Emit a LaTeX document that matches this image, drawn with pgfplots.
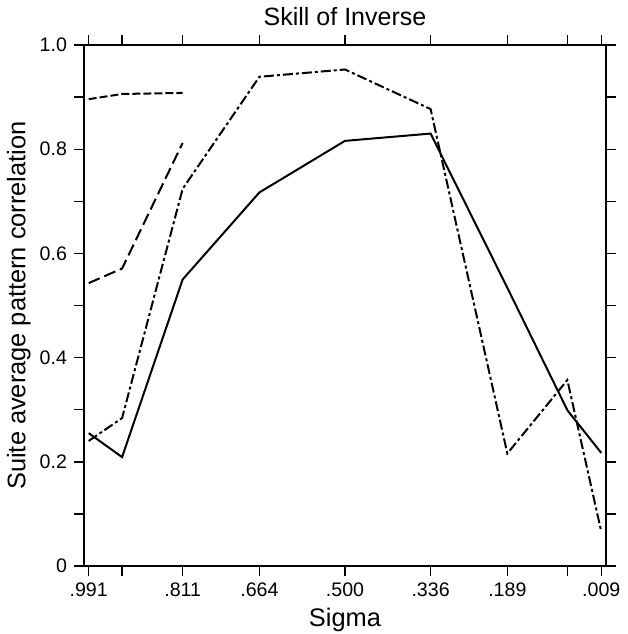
\documentclass[border=0pt]{standalone}
\usepackage{fontspec}
\setmainfont{Liberation Sans}
\usepackage{pgfplots}
\pgfplotsset{compat=1.18}
\begin{document}
\begin{tikzpicture}
\begin{axis}[
  scale only axis,
  width=261pt, height=260.5pt,
  xmin=0, xmax=1, x dir=reverse,
  ymin=0, ymax=1,
  xtick={0.991,0.927,0.811,0.664,0.500,0.336,0.189,0.074,0.009},
  xticklabels={.991,,.811,.664,.500,.336,.189,,.009},
  ytick={0,0.2,0.4,0.6,0.8,1.0},
  yticklabels={0,0.2,0.4,0.6,0.8,1.0},
  minor ytick={0.1,0.3,0.5,0.7,0.9},
  tick align=outside,
  major tick length=5pt, minor tick length=5pt,
  every tick/.style={black, line width=0.7pt},
  axis line style={line width=1.4pt},
  /pgf/number format/assume math mode=true,
  tick label style={font=\fontsize{9.8}{11}\selectfont},
  label style={font=\fontsize{12.7}{14}\selectfont},
  title style={font=\fontsize{12.5}{14}\selectfont, inner sep=0pt, at={(axis description cs:0.5,1)}, anchor=base, yshift=4pt},
  title={Skill of Inverse},
  xlabel={Sigma},
  xlabel style={inner sep=0pt, at={(axis description cs:0.5,0)}, anchor=base, yshift=-30pt},
  ylabel={Suite average pattern correlation},
  ylabel style={inner sep=1pt},
]
\addplot[black, line width=1pt] coordinates {
 (0.991,0.255) (0.927,0.209) (0.811,0.550) (0.664,0.717) (0.500,0.816)
 (0.336,0.830) (0.189,0.534) (0.074,0.299) (0.009,0.217)};
\addplot[black, line width=1pt, dash pattern=on 5pt off 1.5pt on 1.5pt off 1.5pt] coordinates {
 (0.991,0.240) (0.927,0.284) (0.811,0.724) (0.664,0.939) (0.500,0.953)
 (0.336,0.877) (0.189,0.216) (0.074,0.357) (0.009,0.066)};
\addplot[black, line width=1pt, dash pattern=on 6pt off 2.5pt] coordinates {
 (0.991,0.543) (0.927,0.571) (0.811,0.812)};
\addplot[black, line width=1pt, dash pattern=on 4pt off 1.5pt] coordinates {
 (0.991,0.896) (0.927,0.906) (0.811,0.908)};
\end{axis}
\path ([xshift=-42pt,yshift=-34pt]current axis.south west) rectangle ([xshift=10.5pt,yshift=22.5pt]current axis.north east);
\end{tikzpicture}
\end{document}
